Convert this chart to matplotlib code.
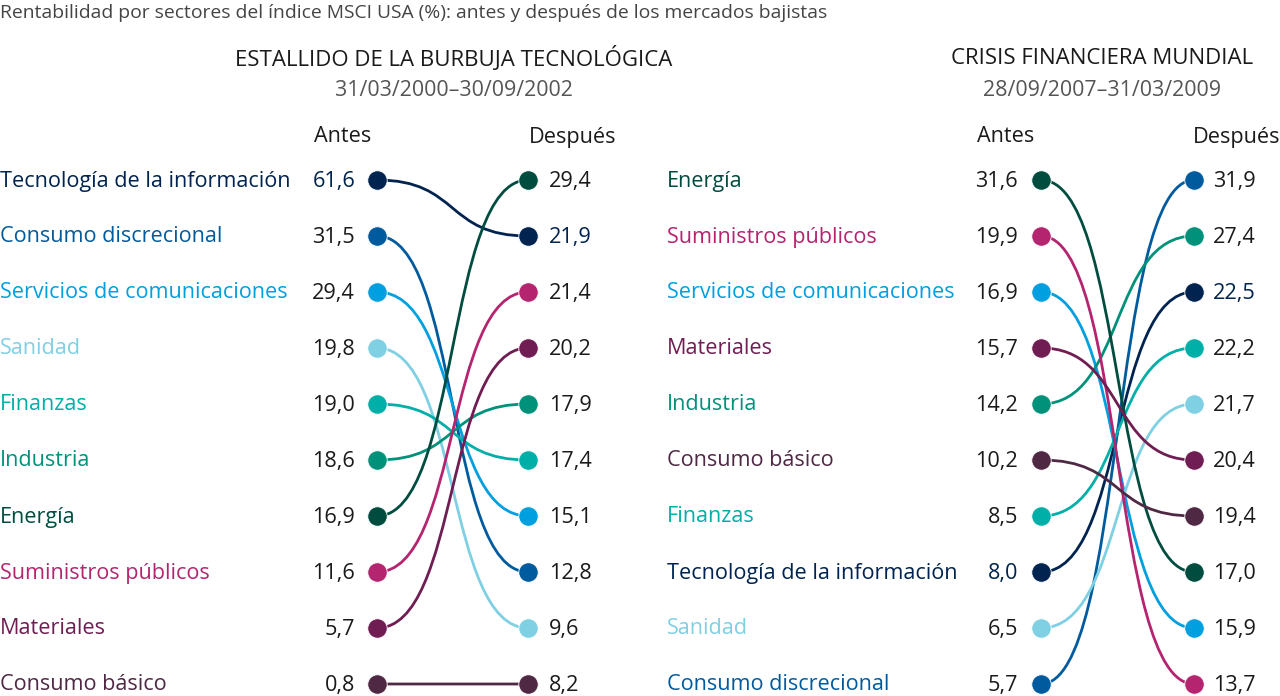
import matplotlib.pyplot as plt
from matplotlib.path import Path
from matplotlib.patches import PathPatch

plt.rcParams['font.family'] = ['Open Sans', 'DejaVu Sans']

# sectors and colours
sectors = ['Tecnología de la información', 'Consumo discrecional', 'Servicios de comunicaciones',
           'Sanidad', 'Finanzas', 'Industria', 'Energía', 'Suministros públicos',
           'Materiales', 'Consumo básico']
colors = ['#00234f', '#005b9e', '#009fdf', '#7fd0e3', '#00afa7', '#00917a',
          '#004d40', '#b5246f', '#6f1d52', '#4f2944']

# returns per period (same order as sectors)
tech_before = [61.6, 31.5, 29.4, 19.8, 19.0, 18.6, 16.9, 11.6, 5.7, 0.8]
tech_after = [21.9, 12.8, 15.1, 9.6, 17.4, 17.9, 29.4, 21.4, 20.2, 8.2]
gfc_before = [8.0, 5.7, 16.9, 6.5, 8.5, 14.2, 31.6, 19.9, 15.7, 10.2]
gfc_after = [22.5, 31.9, 15.9, 21.7, 22.2, 27.4, 17.0, 13.7, 20.4, 19.4]

title = 'Rentabilidad por sectores del índice MSCI USA (%): antes y después de los mercados bajistas'
panels = [
    dict(title='ESTALLIDO DE LA BURBUJA TECNOLÓGICA', dates='31/03/2000–30/09/2002', xc=454,
         before=tech_before, after=tech_after, x_name=0, x_val=355, x0=377, x1=528, x_val2=549),
    dict(title='CRISIS FINANCIERA MUNDIAL', dates='28/09/2007–31/03/2009', xc=1102,
         before=gfc_before, after=gfc_after, x_name=667, x_val=1018, x0=1041, x1=1194, x_val2=1213),
]

row0, row_step = 180, 56
fs = 15.6


def fmt(v):
    return f'{v:.1f}'.replace('.', ',')


def ranks(vals):
    order = sorted(range(len(vals)), key=lambda i: -vals[i])
    r = [0] * len(vals)
    for pos, i in enumerate(order):
        r[i] = pos
    return r


fig = plt.figure(figsize=(12.8, 6.96), dpi=100)
ax = fig.add_axes([0, 0, 1, 1])
ax.set_xlim(0, 1280)
ax.set_ylim(696, 0)
ax.axis('off')

ax.text(0, 13, title, fontsize=13.9, color='#444444', va='center', ha='left')

for p in panels:
    rb = ranks(p['before'])
    ra = ranks(p['after'])
    xc = p['xc']
    ax.text(xc, 58, p['title'], fontsize=16, ha='center', va='center', color='#1a1a1a')
    ax.text(xc, 90, p['dates'], fontsize=15.4, ha='center', va='center', color='#555555')
    ax.text(p['x_val'] - 12, 137, 'Antes', fontsize=fs, ha='center', va='center', color='#1a1a1a')
    ax.text(p['x_val2'] + 24, 137, 'Después', fontsize=fs, ha='center', va='center', color='#1a1a1a')

    w = p['x1'] - p['x0']
    for i, name in enumerate(sectors):
        c = colors[i]
        y0 = row0 + row_step * rb[i]
        y1 = row0 + row_step * ra[i]
        # S-shaped connector, flat at both dots
        path = Path([(p['x0'], y0), (p['x0'] + 0.55 * w, y0), (p['x1'] - 0.55 * w, y1), (p['x1'], y1)],
                    [Path.MOVETO, Path.CURVE4, Path.CURVE4, Path.CURVE4])
        ax.add_patch(PathPatch(path, fc='none', ec=c, lw=2.0, zorder=2))
        ax.plot([p['x0'], p['x1']], [y0, y1], 'o', ms=14, color=c, mec='white', mew=0.6, zorder=3)
        vc = colors[0] if i == 0 else '#1a1a1a'
        ax.text(p['x_name'], y0 + 1, name, fontsize=fs, color=c, ha='left', va='center')
        ax.text(p['x_val'], y0 + 1, fmt(p['before'][i]), fontsize=fs, color=vc, ha='right', va='center')
        ax.text(p['x_val2'], y1 + 1, fmt(p['after'][i]), fontsize=fs, color=vc, ha='left', va='center')

fig.savefig('out.png', dpi=100)
